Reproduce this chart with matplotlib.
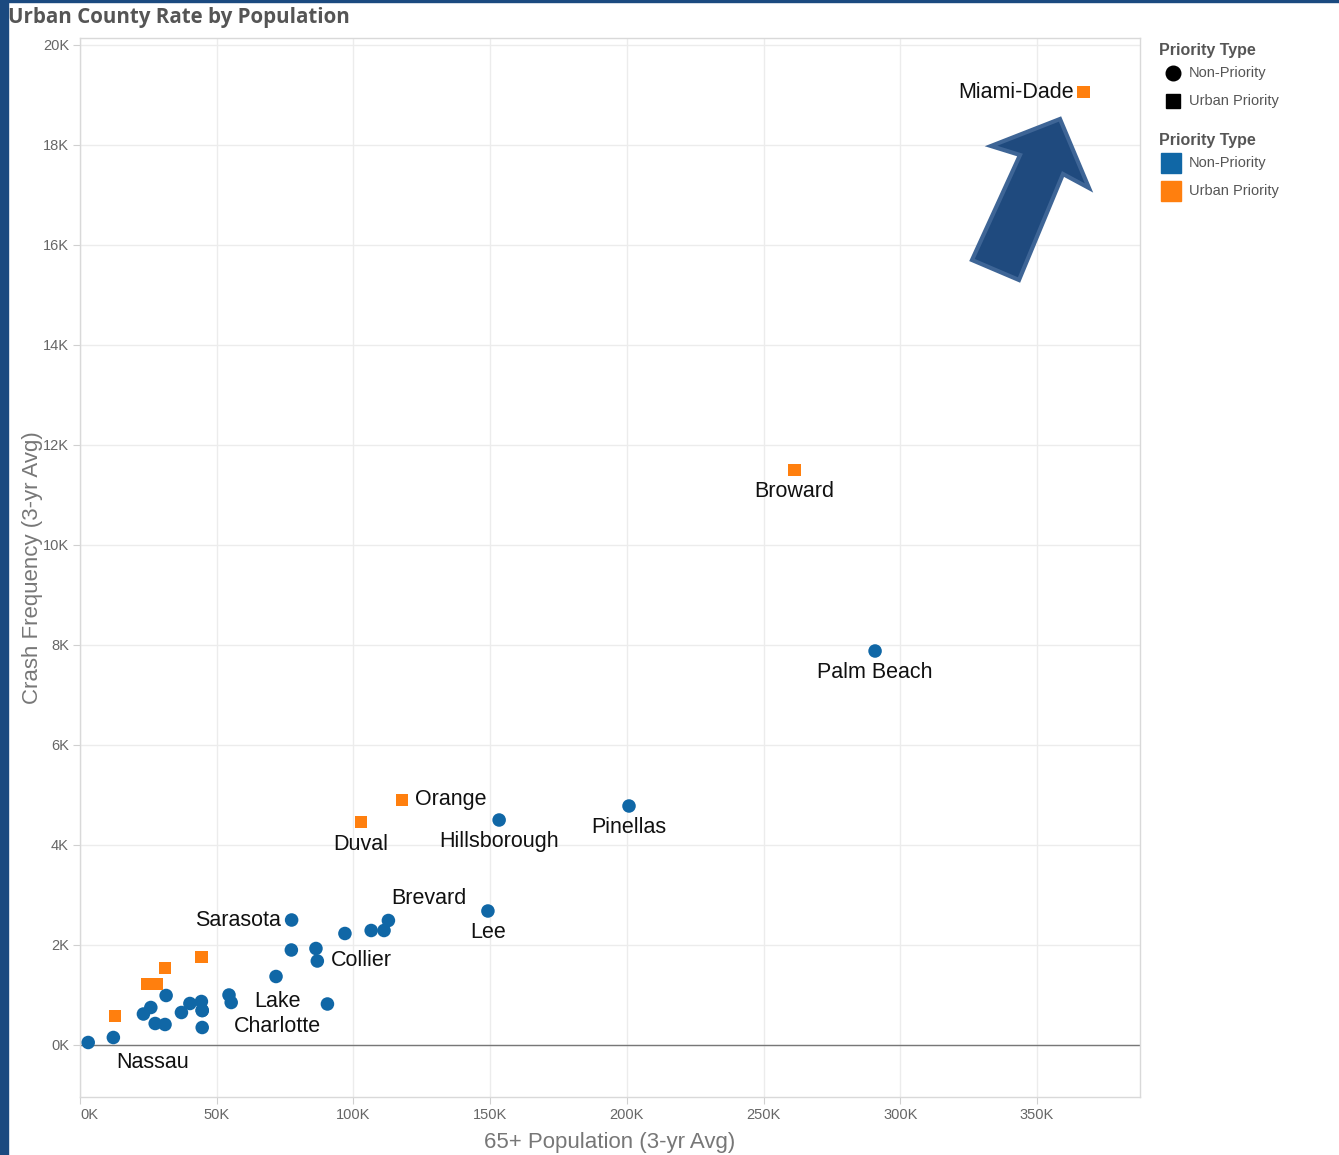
import matplotlib
matplotlib.use("Agg")
import matplotlib.pyplot as plt
from matplotlib.lines import Line2D
from matplotlib.patches import Polygon, Rectangle
from matplotlib.ticker import FuncFormatter

plt.rcParams['font.family'] = ['Liberation Sans', 'DejaVu Sans']

# ---------------- data (values in thousands) ----------------
priority_x = [366.9, 261.2, 117.8, 102.8, 44.3, 31.1, 28.1, 24.8, 12.8]
priority_y = [19.06, 11.5, 4.90, 4.46, 1.76, 1.54, 1.22, 1.22, 0.58]
priority_names = ["Miami-Dade", "Broward", "Orange", "Duval", "", "", "", "", ""]

nonpriority_x = [290.8, 200.8, 153.3, 149.2, 112.8, 111.2, 106.5, 96.9, 90.5,
                 86.8, 86.3, 77.4, 77.3, 71.7, 55.3, 54.5, 44.7, 44.7, 44.4,
                 40.2, 37.1, 31.5, 31.1, 27.5, 25.9, 23.2, 12.2, 3.0, 44.7]
nonpriority_y = [7.88, 4.78, 4.50, 2.68, 2.49, 2.29, 2.29, 2.23, 0.82,
                 1.68, 1.93, 2.50, 1.90, 1.37, 0.85, 1.00, 0.69, 0.35, 0.87,
                 0.83, 0.65, 0.99, 0.41, 0.43, 0.75, 0.62, 0.15, 0.05, 0.69]
nonpriority_names = ["Palm Beach", "Pinellas", "Hillsborough", "Lee", "Brevard", "", "", "", "",
                     "Collier", "", "Sarasota", "", "", "Lake", "", "", "Charlotte", "",
                     "", "", "", "", "", "", "", "Nassau", "", ""]

x_ticks = [0, 50, 100, 150, 200, 250, 300, 350]
y_ticks = [0, 2, 4, 6, 8, 10, 12, 14, 16, 18, 20]
legend_title = "Priority Type"
legend_labels = ["Non-Priority", "Urban Priority"]

# label placement (offsets in points, alignment)
label_style = {
    "Miami-Dade": ((-7, 0), "right", "center"),
    "Broward": ((0, -8), "center", "top"),
    "Orange": ((9, 0), "left", "center"),
    "Duval": ((0, -9), "center", "top"),
    "Palm Beach": ((0, -8), "center", "top"),
    "Pinellas": ((0, -8), "center", "top"),
    "Hillsborough": ((0, -8), "center", "top"),
    "Lee": ((0, -8), "center", "top"),
    "Brevard": ((29, 16), "center", "center"),
    "Collier": ((10, 0), "left", "center"),
    "Sarasota": ((-8, 0), "right", "center"),
    "Lake": ((33, 1), "center", "center"),
    "Charlotte": ((54, 1), "center", "center"),
    "Nassau": ((28, -18), "center", "center"),
}

BLUE = "#1067a6"
ORANGE = "#ff7f0e"
LEG_GREY = "#555555"

W, H = 1339, 1155
fig = plt.figure(figsize=(W / 100, H / 100), dpi=100)
ax = fig.add_axes([80 / W, 1 - 1097 / H, (1140 - 80) / W, (1097 - 38) / H])

ax.set_xlim(0, 387.7)
ax.set_ylim(-1.04, 20.14)
ax.set_xticks(x_ticks)
ax.set_yticks(y_ticks)
ax.xaxis.set_major_formatter(FuncFormatter(lambda v, p: f"{int(v)}K"))
ax.yaxis.set_major_formatter(FuncFormatter(lambda v, p: f"{int(v)}K"))
ax.grid(True, color="#ececec", linewidth=1.0)
ax.set_axisbelow(True)
for s in ax.spines.values():
    s.set_color("#d9d9d9")
    s.set_linewidth(1.0)
ax.axhline(0, color="#777777", linewidth=1.0, zorder=1)
ax.tick_params(axis="both", colors="#d0d0d0", labelcolor="#666666", labelsize=10.5,
               length=5, width=0.8, pad=3)
ax.get_xticklabels()[0].set_horizontalalignment("left")

ax.scatter(nonpriority_x, nonpriority_y, s=95, marker="o", color=BLUE,
           edgecolors="none", zorder=3)
ax.scatter(priority_x, priority_y, s=85, marker="s", color=ORANGE,
           edgecolors="none", zorder=3)

for xs, ys, names in [(priority_x, priority_y, priority_names),
                      (nonpriority_x, nonpriority_y, nonpriority_names)]:
    for x, y, n in zip(xs, ys, names):
        if not n:
            continue
        off, ha, va = label_style[n]
        ax.annotate(n, (x, y), xytext=off, textcoords="offset points",
                    ha=ha, va=va, fontsize=15.5, color="#111111", zorder=4)

ax.set_xlabel("65+ Population (3-yr Avg)", fontsize=16, color="#777777", labelpad=7)
ax.set_ylabel("Crash Frequency (3-yr Avg)", fontsize=16, color="#777777", labelpad=0)

# title
fig.text(8 / W, 1 - 18 / H, "Urban County Rate by Population", fontsize=14.8,
         fontweight="bold", color="#555555", ha="left", va="center",
         family=["Open Sans", "DejaVu Sans"])

# left/top frame stripes
fig.add_artist(Rectangle((0, 0), 8 / W, 1, transform=fig.transFigure,
                         color="#1b4a80", zorder=10))
fig.add_artist(Rectangle((0, 1 - 2 / H), 1, 2 / H, transform=fig.transFigure,
                         color="#1b4a80", zorder=10))

# block arrow (decoration)
arrow_px = [(1060, 119), (1089, 188), (1063, 174), (1019, 280), (972, 260),
            (1020, 155), (991, 146)]
arrow_fig = [(px / W, 1 - py / H) for px, py in arrow_px]
fig.add_artist(Polygon(arrow_fig, closed=True, transform=fig.transFigure,
                       facecolor="#1f4a7e", edgecolor="#3e6596", linewidth=3,
                       joinstyle="miter", zorder=5))


# legends (drawn manually for exact spacing)
def fx(px):
    return px / W


def fy(py):
    return 1 - py / H


def legend_block(top_py, handles):
    fig.text(fx(1159), fy(top_py), legend_title, fontsize=11.5, fontweight="bold",
             color=LEG_GREY, ha="left", va="center")
    for i, ((hx, marker, color, msize), lab) in enumerate(zip(handles, legend_labels)):
        py = top_py + 23 + 28 * i
        fig.add_artist(Line2D([fx(hx)], [fy(py)], transform=fig.transFigure,
                              marker=marker, linestyle="", color=color, markersize=msize))
        fig.text(fx(1189), fy(py), lab, fontsize=10.5, color=LEG_GREY,
                 ha="left", va="center")


legend_block(50, [(1173, "o", "black", 10.5), (1173, "s", "black", 9.5)])
legend_block(140, [(1171, "s", BLUE, 14.5), (1171, "s", ORANGE, 14.5)])

fig.savefig("out.png", dpi=100, facecolor="white")
